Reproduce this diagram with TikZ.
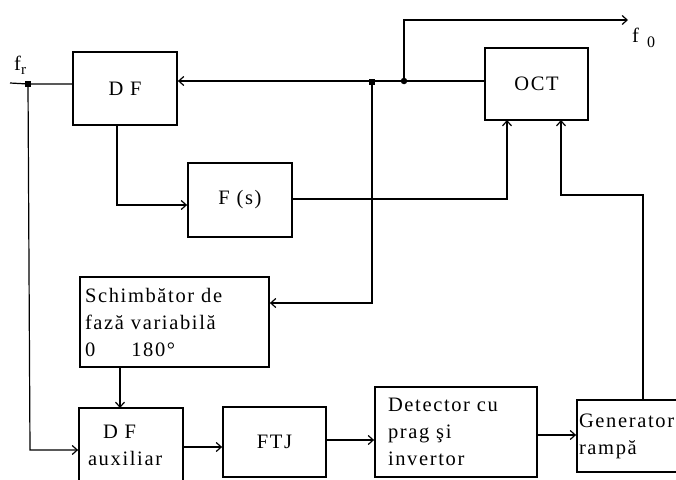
\documentclass[tikz,border=0pt]{standalone}
\usepackage{fontspec}
\setmainfont{Liberation Serif}[LetterSpace=8]
\usetikzlibrary{arrows.meta}
\begin{document}
\begin{tikzpicture}[x=1pt,y=-1pt,
  blk/.style={draw, line width=1.8pt, inner sep=0pt, font=\fontsize{20.5}{27}\selectfont},
  txt/.style={font=\fontsize{20.5}{27}\selectfont, inner sep=0pt},
  wire/.style={line width=1.2pt},
  arr/.style={wire, -{Straight Barb[length=5pt,width=9pt]}},
  sq/.style={fill, inner sep=0pt, minimum size=6pt},
  dot/.style={circle, fill, inner sep=0pt, minimum size=6.5pt}]
\useasboundingbox (0,0) rectangle (676,479);

% blocks
\node[blk, minimum width=104pt, minimum height=73pt] (DF) at (125,88.5) {D F};
\node[blk, minimum width=104pt, minimum height=74pt] (Fs) at (240,200) {F (s)};
\node[blk, minimum width=103pt, minimum height=72pt] (OCT) at (536.5,84) {OCT};
\node[blk, minimum width=189pt, minimum height=90pt, text width=179pt, align=left, inner xsep=5pt] (Sch) at (174.5,322)
  {Schimbător de\\fază variabilă\\0\hspace{36pt}180°};
\node[blk, minimum width=104pt, minimum height=74pt, text width=86pt, align=left, inner xsep=9pt] (DFa) at (131,445)
  {\hspace*{15pt}D F\\auxiliar};
\node[blk, minimum width=103pt, minimum height=70pt] (FTJ) at (274.5,442) {FTJ};
\node[blk, minimum width=162pt, minimum height=90pt, text width=136pt, align=left, inner xsep=13pt] (Det) at (456,432)
  {Detector cu\\prag şi\\invertor};
\node[blk, minimum width=103pt, minimum height=72pt, text width=99pt, align=left, inner xsep=2pt] (Gen) at (628.5,436)
  {Generator\\rampă};

% labels
\node[txt, anchor=base west] (fr) at (14,70) {f\raisebox{-4pt}{\fontsize{15}{15}\selectfont r}};
\node[txt, anchor=base west] (fo) at (632,42) {f\hspace{8pt}\raisebox{-5pt}{\fontsize{16}{16}\selectfont 0}};

% junctions and free ends
\coordinate (in) at (10,83);
\node[sq] (jr) at (28,84) {};
\node[sq] (js) at (372,82) {};
\node[dot] (jd) at (404,81) {};
\coordinate (out) at (628,20);

% connectors
\draw[wire] (in) -- (jr.center) -- (DF.west |- jr);
\draw[arr] (OCT.west |- jd) -- (DF.east |- jd);
\draw[arr] (jd.center) -- (jd.center |- out) -- (out);
\draw[arr] (js.center) -- (372,303) -- (Sch.east |- 0,303);
\draw[arr] (117,125) -- (117,205) -- (Fs.west |- 0,205);
\draw[arr] (Fs.east |- 0,199) -- (507,199) -- (507,120);
\draw[arr] (643,400) -- (643,195) -- (561,195) -- (561,120);
\draw[arr] (jr.center) -- (30,450) -- (DFa.west |- 0,450);
\draw[arr] (120,367) -- (120,408);
\draw[arr] (DFa.east |- 0,447) -- (FTJ.west |- 0,447);
\draw[arr] (FTJ.east |- 0,440) -- (Det.west |- 0,440);
\draw[arr] (Det.east |- 0,435) -- (Gen.west |- 0,435);
\end{tikzpicture}
\end{document}
